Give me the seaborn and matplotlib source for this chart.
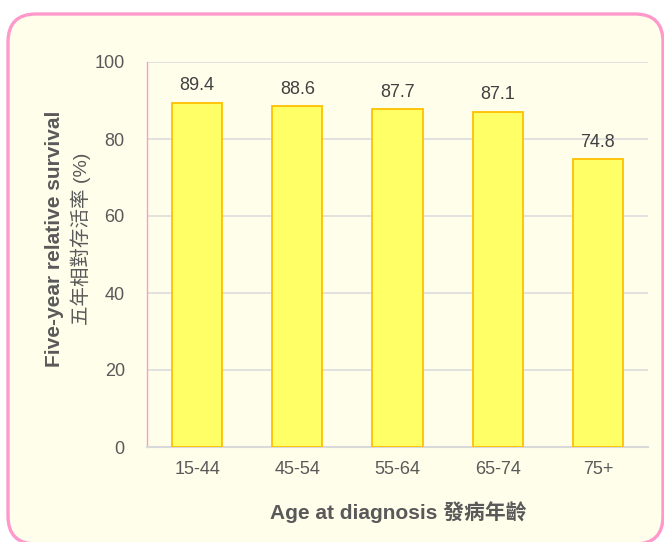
import matplotlib
matplotlib.use("Agg")
import matplotlib.pyplot as plt
import seaborn as sns
import pandas as pd
from matplotlib.patches import FancyBboxPatch
from matplotlib.transforms import IdentityTransform

categories = ["15-44", "45-54", "55-64", "65-74", "75+"]
survival = [89.4, 88.6, 87.7, 87.1, 74.8]
yticks = [0, 20, 40, 60, 80, 100]

sns.set_theme(style="white")
plt.rcParams['font.family'] = ['Liberation Sans', 'Noto Sans CJK TC']

W, H = 664, 542
fig = plt.figure(figsize=(W / 100, H / 100), dpi=100)
fig.patch.set_facecolor("white")

bg = FancyBboxPatch((8, -2), 655, H - 14 + 2, boxstyle="round,pad=0,rounding_size=28",
                    transform=IdentityTransform(), facecolor="#FFFEEB",
                    edgecolor="#FF99CC", linewidth=2.4, zorder=-10)
fig.patches.append(bg)

ax = fig.add_axes([147 / W, (H - 447) / H, (648 - 147) / W, (447 - 62) / H])
ax.set_facecolor("none")
ax.set_zorder(5)

df = pd.DataFrame({"age": categories, "surv": survival})
sns.barplot(data=df, x="age", y="surv", ax=ax, color="#FFFF66", width=0.5,
            edgecolor="#FFC000", linewidth=1.3, saturation=1, zorder=3)

ax.set_ylim(0, 100)
ax.set_xlim(-0.5, 4.5)
ax.set_yticks(yticks)
ax.yaxis.grid(True, color="#D9D9D9", linewidth=1.1, zorder=0)
ax.set_axisbelow(True)

for s in ["top", "right"]:
    ax.spines[s].set_visible(False)
ax.spines["left"].set_color("#FF99CC")
ax.spines["left"].set_linewidth(1.0)
ax.spines["bottom"].set_color("#D9D9D9")
ax.spines["bottom"].set_linewidth(1.5)

ax.tick_params(axis="y", direction="in", length=4, width=1, color="#FF99CC",
               pad=16, labelsize=13, labelcolor="#595959")
ax.tick_params(axis="x", length=0, pad=10, labelsize=13, labelcolor="#595959")
ax.set_xlabel("")
ax.set_ylabel("")

for i, v in enumerate(survival):
    ax.annotate(f"{v:.1f}", (i, v), xytext=(0, 6), textcoords="offset points",
                ha="center", va="bottom", fontsize=13, color="#404040")

fig.text(55 / W, 1 - 239 / H, "Five-year relative survival", rotation=90,
         ha="center", va="center", fontsize=15, fontweight="bold", color="#595959")
fig.text(81 / W, 1 - 239 / H, "五年相對存活率 (%)", rotation=90,
         ha="center", va="center", fontsize=14, color="#595959")
fig.text(398 / W, 1 - 512 / H, "Age at diagnosis 發病年齡",
         ha="center", va="center", fontsize=15, fontweight="bold", color="#595959")

fig.savefig("out.png", dpi=100)
